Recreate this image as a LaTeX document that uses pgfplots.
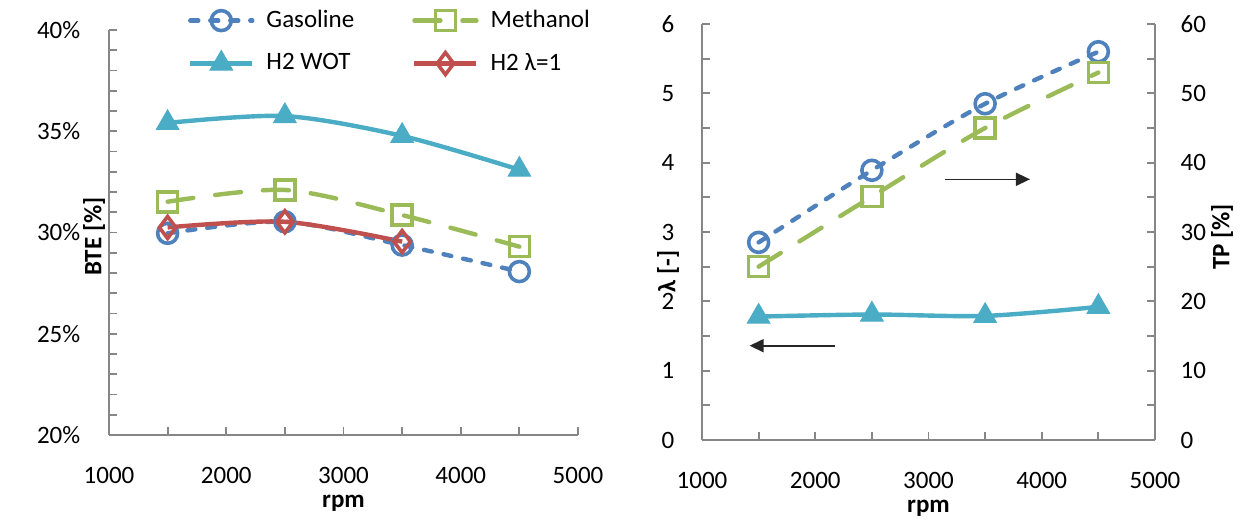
\documentclass[border=0pt]{standalone}
\usepackage{fontspec}
\setmainfont{Carlito}
\usepackage{pgfplots}
\pgfplotsset{compat=1.18}
\usetikzlibrary{arrows.meta,calc}
\definecolor{gas}{HTML}{4F81BD}
\definecolor{meth}{HTML}{9BBB59}
\definecolor{wot}{HTML}{4BACC6}
\definecolor{lam}{HTML}{C0504D}
\definecolor{axgray}{HTML}{868686}
\pgfplotsset{
  base/.style={
    scale only axis,
    axis line style={-, draw=axgray, line width=1pt},
    tick style={draw=axgray, line width=0.9pt},
    major tick length=4pt, minor tick length=4pt,
    tick align=inside,
    /pgf/number format/assume math mode=true,
    /pgf/number format/1000 sep={},
    xmin=1000, xmax=5000,
    xtick={1000,2000,3000,4000,5000},
    minor x tick num=1,
    x tick label style={yshift=-12pt},
    every axis x label/.style={at={(axis description cs:0.5,0)}, anchor=center, yshift=-34pt, font=\bfseries},
    clip=false,
  },
  gasst/.style={color=gas, line width=2.2pt, line cap=round, dash pattern=on 4pt off 6pt, smooth, tension=0.5,
    mark=o, mark size=5pt, mark options={solid, line width=1.8pt}},
  methst/.style={color=meth, line width=2.2pt, line cap=round, dash pattern=on 13pt off 11pt, smooth, tension=0.5,
    mark=square, mark size=5pt, mark options={solid, line width=1.8pt}},
  wotst/.style={color=wot, line width=2.2pt, smooth, tension=0.5,
    mark=triangle*, mark size=6.5pt, mark options={solid, fill=wot, line width=0.5pt}},
  lamst/.style={color=lam, line width=2.2pt, smooth, tension=0.5,
    mark=diamond, mark size=5.5pt, mark options={solid, line width=1.8pt}},
}
\begin{document}
\fontsize{12.5}{15}\selectfont
\begin{tikzpicture}
\useasboundingbox (0pt,0pt) rectangle (620pt,260pt);
% ---------------- left panel ----------------
\begin{axis}[base,
  at={(54.5pt,42.5pt)}, anchor=south west,
  width=234.5pt, height=202.5pt,
  axis x line*=bottom, axis y line*=left,
  ymin=20, ymax=40,
  ytick={20,25,30,35,40},
  yticklabels={20\%,25\%,30\%,35\%,40\%},
  minor y tick num=4,
  y tick label style={xshift=-10pt},
  xlabel={rpm},
  ylabel={BTE [\%]},
  every axis y label/.style={at={($(axis description cs:0,0.49)+(-7.5pt,0pt)$)}, rotate=90, anchor=center, font=\bfseries},
  legend columns=2,
  legend cell align=left,
  legend style={draw=none, fill=none, at={(0.155,1.07)}, anchor=north west,
    /tikz/every odd column/.append style={column sep=4pt},
    /tikz/every even column/.append style={column sep=27pt},
    row sep=7pt, font=\fontsize{12.5}{15}\selectfont},
  legend image code/.code={\draw[mark repeat=2,mark phase=2] plot coordinates {(0pt,0pt) (15.5pt,0pt) (31pt,0pt)};},
]
\addplot[gasst] coordinates {(1500,29.96) (2500,30.53) (3500,29.38) (4500,28.07)};
\addlegendentry{Gasoline}
\addplot[methst] coordinates {(1500,31.52) (2500,32.1) (3500,30.86) (4500,29.3)};
\addlegendentry{Methanol}
\addplot[wotst] coordinates {(1500,35.41) (2500,35.75) (3500,34.77) (4500,33.1)};
\addlegendentry{H2 WOT}
\addplot[lamst] coordinates {(1500,30.25) (2500,30.53) (3500,29.55)};
\addlegendentry{H2 λ=1}
\end{axis}
% ---------------- right panel: lambda axis ----------------
\begin{axis}[base,
  at={(351pt,40pt)}, anchor=south west,
  width=226.5pt, height=208pt,
  axis x line*=bottom, axis y line*=left,
  ymin=0, ymax=6,
  ytick={0,1,2,3,4,5,6},
  minor y tick num=1,
  y tick label style={xshift=-9.5pt},
  xlabel={rpm},
  ylabel={λ [-]},
  every axis y label/.style={at={($(axis description cs:0,0.405)+(-17pt,0pt)$)}, rotate=90, anchor=center, font=\bfseries},
]
\addplot[wotst] coordinates {(1500,1.78) (2500,1.81) (3500,1.79) (4500,1.92)};
\draw[-{Triangle[length=7pt,width=6.5pt]}, line width=0.8pt, black!85] (axis cs:2170,1.36) -- (axis cs:1420,1.36);
\end{axis}
% ---------------- right panel: TP axis ----------------
\begin{axis}[base,
  at={(351pt,40pt)}, anchor=south west,
  width=226.5pt, height=208pt,
  axis x line=none, axis y line*=right,
  ymin=0, ymax=60,
  ytick={0,10,20,30,40,50,60},
  minor y tick num=1,
  y tick label style={xshift=8.5pt},
  ylabel={TP [\%]},
  every axis y label/.style={at={($(axis description cs:1,0.488)+(33.5pt,0pt)$)}, rotate=90, anchor=center, font=\bfseries},
]
\addplot[gasst] coordinates {(1500,28.5) (2500,38.9) (3500,48.5) (4500,56.0)};
\addplot[methst] coordinates {(1500,25.0) (2500,35.1) (3500,45.0) (4500,53.0)};
\draw[-{Triangle[length=7pt,width=6.5pt]}, line width=0.8pt, black!85] (axis cs:3146,37.6) -- (axis cs:3896,37.6);
\end{axis}
\end{tikzpicture}
\end{document}
